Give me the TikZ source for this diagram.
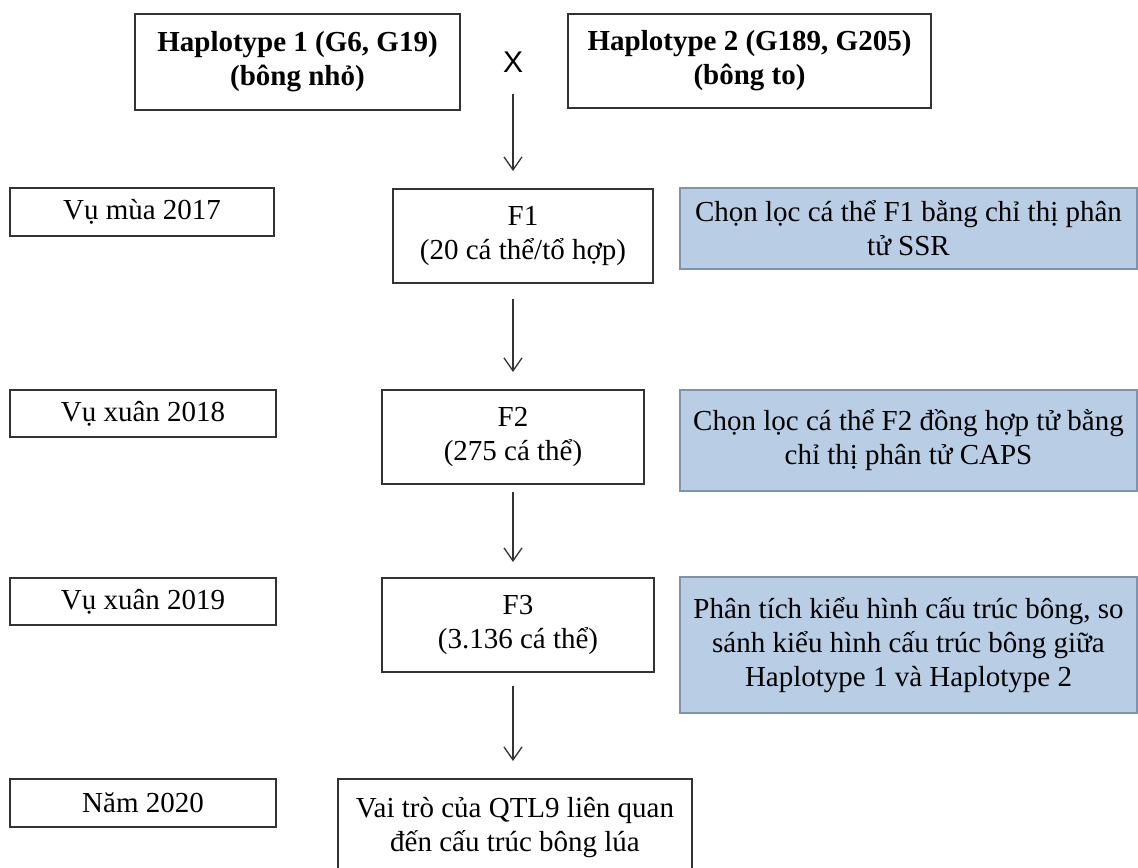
\documentclass[tikz,border=0pt]{standalone}
\usepackage{fontspec}
\setmainfont{Liberation Serif}
\newfontfamily\xfont{Liberation Sans}
\usetikzlibrary{arrows.meta}
\definecolor{lightblue}{HTML}{B9CDE5}
\definecolor{bluegray}{HTML}{7F93AD}
\definecolor{boxline}{HTML}{333333}
\tikzset{
  box/.style={draw=boxline, line width=1pt, inner sep=0pt, align=center,
    font=\fontsize{14.5}{17}\selectfont},
  bluebox/.style={box, draw=bluegray, line width=0.8pt, fill=lightblue},
  arr/.style={-{Straight Barb[length=6.5pt,width=9pt]}, line width=0.65pt, draw=boxline}
}
\begin{document}
\begin{tikzpicture}[x=0.5pt,y=-0.5pt]
\useasboundingbox (0,0) rectangle (1138,867);
\fill[white] (0,0) rectangle (1138,867);
\clip (0,0) rectangle (1138,867);

% top row
\node[box, minimum width=162.5pt, minimum height=48pt] (h1) at (297.5,62)
  {\bfseries Haplotype 1 (G6, G19)\\\bfseries (bông nhỏ)};
\node[inner sep=0pt, font=\xfont\fontsize{15}{17}\selectfont] (X) at (513,62) {X};
\node[box, minimum width=181.5pt, minimum height=47pt] (h2) at (749.5,61)
  {\bfseries Haplotype 2 (G189, G205)\\\bfseries (bông to)};

% left column
\node[box, minimum width=132pt, minimum height=24pt] (s1) at (142,212) {Vụ mùa 2017};
\node[box, minimum width=133pt, minimum height=23.5pt] (s2) at (143,413.5) {Vụ xuân 2018};
\node[box, minimum width=133pt, minimum height=23.5pt] (s3) at (143,601.5) {Vụ xuân 2019};
\node[box, minimum width=133pt, minimum height=24pt] (s4) at (143,803) {Năm 2020};

% centre column
\node[box, minimum width=130pt, minimum height=47pt] (f1) at (523,236) {F1\\(20 cá thể/tổ hợp)};
\node[box, minimum width=131pt, minimum height=47pt] (f2) at (513,437) {F2\\(275 cá thể)};
\node[box, minimum width=136pt, minimum height=47pt] (f3) at (518,625) {F3\\(3.136 cá thể)};
\node[box, minimum width=177pt, minimum height=49pt] (res) at (515,828)
  {Vai trò của QTL9 liên quan\\đến cấu trúc bông lúa};

% right column
\node[bluebox, minimum width=228.5pt, minimum height=40.5pt] (b1) at (908.5,228.5)
  {Chọn lọc cá thể F1 bằng chỉ thị phân\\tử SSR};
\node[bluebox, minimum width=228.5pt, minimum height=50.5pt] (b2) at (908.5,440.5)
  {Chọn lọc cá thể F2 đồng hợp tử bằng\\chỉ thị phân tử CAPS};
\node[bluebox, minimum width=228.5pt, minimum height=68pt] (b3) at (908.5,645)
  {Phân tích kiểu hình cấu trúc bông, so\\sánh kiểu hình cấu trúc bông giữa\\Haplotype 1 và Haplotype 2};

% arrows
\draw[arr, shorten <=10.5pt, shorten >=8.5pt] (X.south) -- (X.south |- f1.north);
\draw[arr, shorten <=7.5pt, shorten >=8.5pt] (X.south |- f1.south) -- (X.south |- f2.north);
\draw[arr, shorten <=3.5pt, shorten >=7.5pt] (X.south |- f2.south) -- (X.south |- f3.north);
\draw[arr, shorten <=6.5pt, shorten >=8.5pt] (X.south |- f3.south) -- (X.south |- res.north);
\end{tikzpicture}
\end{document}
